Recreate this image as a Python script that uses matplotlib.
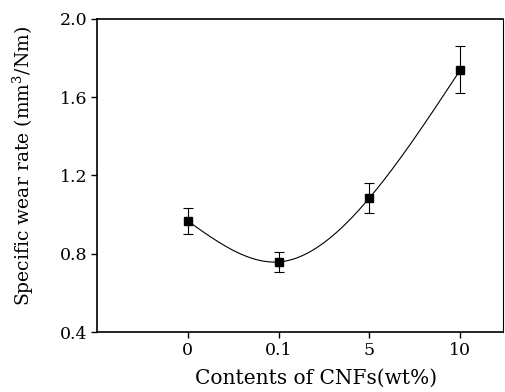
import numpy as np
import matplotlib
matplotlib.use("Agg")
import matplotlib.pyplot as plt

# data
categories = ["0", "0.1", "5", "10"]
wear_rate = [0.967, 0.758, 1.085, 1.739]
wear_err = [0.067, 0.052, 0.077, 0.12]

plt.rcParams['font.family'] = ['DejaVu Serif']
plt.rcParams['mathtext.fontset'] = 'dejavuserif'

x = np.arange(len(categories), dtype=float)
y = np.array(wear_rate)


def natural_spline(xs, ys, xnew):
    # natural cubic spline, only used to draw the smooth connecting line
    n = len(xs) - 1
    h = np.diff(xs)
    A = np.zeros((n + 1, n + 1))
    b = np.zeros(n + 1)
    A[0, 0] = 1
    A[n, n] = 1
    for i in range(1, n):
        A[i, i - 1] = h[i - 1]
        A[i, i] = 2 * (h[i - 1] + h[i])
        A[i, i + 1] = h[i]
        b[i] = 3 * ((ys[i + 1] - ys[i]) / h[i] - (ys[i] - ys[i - 1]) / h[i - 1])
    c = np.linalg.solve(A, b)
    out = np.empty_like(xnew)
    for k, xv in enumerate(xnew):
        i = min(max(np.searchsorted(xs, xv) - 1, 0), n - 1)
        dx = xv - xs[i]
        bb = (ys[i + 1] - ys[i]) / h[i] - h[i] * (2 * c[i] + c[i + 1]) / 3
        d = (c[i + 1] - c[i]) / (3 * h[i])
        out[k] = ys[i] + bb * dx + c[i] * dx ** 2 + d * dx ** 3
    return out


xs = np.linspace(x[0], x[-1], 200)
ys = natural_spline(x, y, xs)

fig = plt.figure(figsize=(5.05, 3.92), dpi=100)
ax = fig.add_axes([0.192, 0.153, 0.804, 0.799])

ax.plot(xs, ys, color="black", lw=0.8)
ax.errorbar(x, y, yerr=wear_err, fmt="s", color="black", ms=6,
            ecolor="black", elinewidth=0.8, capsize=3.5, capthick=0.8)

ax.set_xlim(-1, 3.47)
ax.set_ylim(0.4, 2.0)
ax.set_xticks(x)
ax.set_xticklabels(categories)
ax.set_yticks([0.4, 0.8, 1.2, 1.6, 2.0])
ax.set_yticklabels(["0.4", "0.8", "1.2", "1.6", "2.0"])
ax.tick_params(direction="out", length=4, width=1, labelsize=12.5, pad=3)
for s in ax.spines.values():
    s.set_linewidth(1.2)
ax.spines["right"].set_linewidth(0.8)

ax.set_xlabel("Contents of CNFs(wt%)", fontsize=14.5)
ax.xaxis.set_label_coords(0.54, -0.118)
ax.set_ylabel("Specific wear rate (mm$^3$/Nm)", fontsize=13.5)
ax.yaxis.set_label_coords(-0.15, 0.53)

fig.savefig("out.png", dpi=100)
